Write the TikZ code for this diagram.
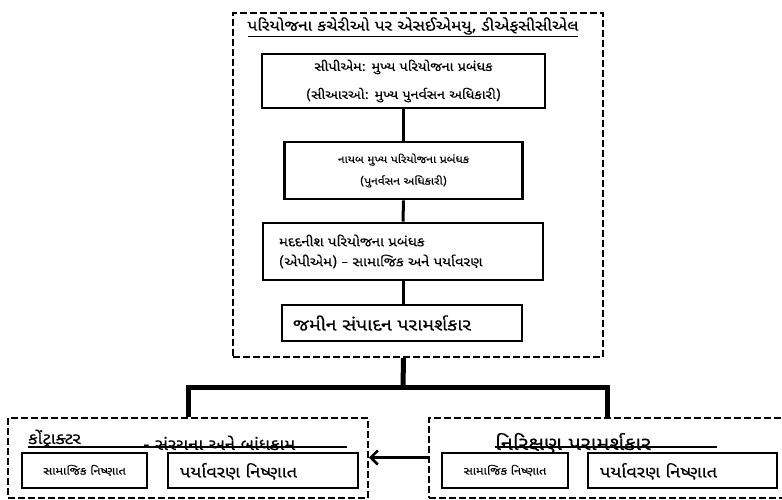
\documentclass[tikz,border=0pt]{standalone}
\usepackage{fontspec}
\newfontfamily\gujfont[Script=Gujarati, FakeStretch=1.15, FakeBold=0.2]{Noto Sans Gujarati UI}
\newfontfamily\latinfont{Noto Sans}
\usetikzlibrary{arrows.meta}
\tikzset{
  post/.style={draw, line width=2.8pt, inner sep=2pt},
  group/.style={draw, line width=2pt, dash pattern=on 7pt off 3pt},
  link/.style={line width=3pt},
  trunk/.style={line width=5pt},
  fs/.style={font=\gujfont\fontsize{#1}{#1}\selectfont},
}
\begin{document}
\begin{tikzpicture}[x=1pt,y=-1pt]
\useasboundingbox (0,0) rectangle (782,499);
% project office
\node[group, minimum width=370pt, minimum height=344pt] (sem) at (418,185) {};
\node[fs=15] (ttl) at (413,27) {\underline{પરિયોજના કચેરીઓ પર એસઈએમયુ, ડીએફસીસીએલ}};
\node[post, fs=12.5, align=center, minimum width=283pt, minimum height=54pt] (cpm) at (403.5,81)
  {સીપીએમ: મુખ્ય પરિયોજના પ્રબંધક\\[12.5pt](સીઆરઓ: મુખ્ય પુનર્વસન અધિકારી)};
\node[post, fs=10.5, align=center, minimum width=238pt, minimum height=57pt] (dcpm) at (403.5,170.5)
  {નાયબ મુખ્ય પરિયોજના પ્રબંધક\\[8.5pt](પુનર્વસન અધિકારી)};
\node[post, fs=13, align=left, minimum width=280pt, minimum height=57pt, inner xsep=15pt, text width=248pt] (apm) at (403,251.5)
  {મદદનીશ પરિયોજના પ્રબંધક\\[7pt](એપીએમ) {\latinfont –} સામાજિક અને પર્યાવરણ};
\node[post, fs=17, align=left, minimum width=240pt, minimum height=36pt, inner xsep=10pt, text width=218pt] (lac) at (402,323)
  {જમીન સંપાદન પરામર્શકાર};
\draw[link] (cpm.south) -- (dcpm.north);
\draw[link] (dcpm.south) -- (apm.north);
\draw[link] (apm.south) -- (apm.south |- lac.north);
% contractor and supervision
\node[group, minimum width=360pt, minimum height=80pt] (contr) at (188,457.5) {};
\node[group, minimum width=356pt, minimum height=80pt] (supc) at (607,457.5) {};
\node[fs=16, anchor=base west, inner sep=0pt] (ctitle) at (28,444) {કોંટ્રાક્ટર};
\node[fs=16, anchor=base west, inner sep=0pt] (cwork) at (143,450) {- સંરચના અને બાંધકામ};
\node[fs=19, anchor=base west, inner sep=0pt] (stitle) at (495,450) {નિરિક્ષણ પરામર્શકાર};
\draw[line width=1.5pt] (28,447) -- (347,447);
\draw[line width=1.5pt] (495,447) -- (717,447);
\node[post, fs=11, minimum width=125pt, minimum height=35pt] (csoc) at (84.5,470.5) {સામાજિક નિષ્ણાત};
\node[post, fs=16, align=left, minimum width=190pt, minimum height=35pt, inner xsep=12pt, text width=166pt, text height=15pt, text depth=1pt] (cenv) at (263,470.5) {પર્યાવરણ નિષ્ણાત};
\node[post, fs=11, minimum width=126pt, minimum height=35pt] (ssoc) at (505,470.5) {સામાજિક નિષ્ણાત};
\node[post, fs=16, align=left, minimum width=189pt, minimum height=35pt, inner xsep=12pt, text width=165pt, text height=15pt, text depth=1pt] (senv) at (682.5,470.5) {પર્યાવરણ નિષ્ણાત};
\coordinate (hub) at (403,387);
\draw[trunk] (sem.south -| cpm) -- (hub);
\draw[trunk] (contr.north) -- (contr.north |- hub) -- (supc.north |- hub) -- (supc.north);
\draw[line width=2.5pt, -{Straight Barb[length=7pt,width=14pt]}] (supc.west) -- (contr.east);
\end{tikzpicture}
\end{document}
